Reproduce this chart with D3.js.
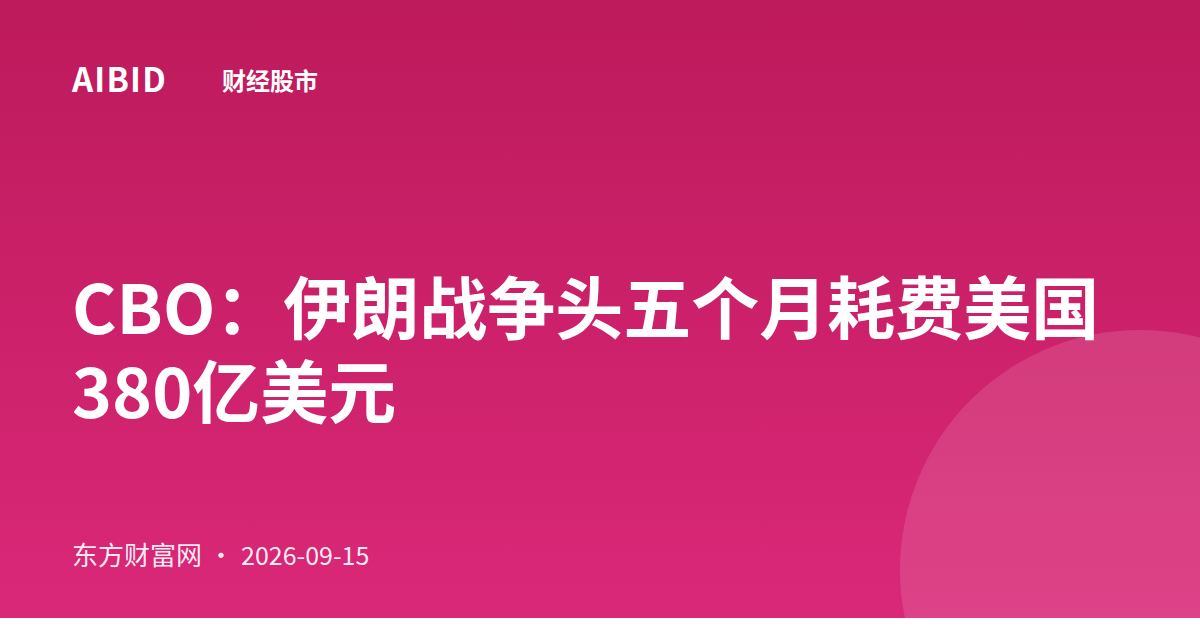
<!DOCTYPE html>
<html>
<head>
<meta charset="utf-8">
<script src="https://cdn.jsdelivr.net/npm/d3@7"></script>
<style>
  html, body { margin: 0; padding: 0; background: #fff; }
  svg { display: block; }
</style>
</head>
<body>
<svg id="card"></svg>
<script>
// card texts
const brand = ['AIBID', '财经股市'];
const titleLines = ['CBO：伊朗战争头五个月耗费美国', '380亿美元'];
const footer = ['东方财富网', '·', '2026-09-15'];
const bgStops = ['#bd1a5b', '#da2878'];

const width = 1200;
const height = 618;
const font = '"Noto Sans CJK SC", "Noto Sans", sans-serif';

const svg = d3.select('#card')
  .attr('width', width)
  .attr('height', 630);

const defs = svg.append('defs');
const grad = defs.append('linearGradient')
  .attr('id', 'bg')
  .attr('x1', 0).attr('y1', 0)
  .attr('x2', 0).attr('y2', 1);

const stop = d3.scaleLinear().domain([0, bgStops.length - 1]).range([0, 100]);
grad.selectAll('stop')
  .data(bgStops)
  .join('stop')
  .attr('offset', (d, i) => `${stop(i)}%`)
  .attr('stop-color', d => d);

svg.append('rect')
  .attr('width', width)
  .attr('height', height)
  .attr('fill', 'url(#bg)');

// decorative circle bottom right
const clip = defs.append('clipPath').attr('id', 'clip');
clip.append('rect').attr('width', width).attr('height', height);

svg.append('circle')
  .attr('clip-path', 'url(#clip)')
  .attr('cx', 1140)
  .attr('cy', 570)
  .attr('r', 240)
  .attr('fill', '#fff')
  .attr('fill-opacity', 0.12);

// top brand row
const header = svg.append('g').attr('font-family', font).attr('fill', '#fff');
header.append('text')
  .attr('x', 72).attr('y', 92)
  .attr('font-size', 33)
  .attr('font-weight', 700)
  .attr('letter-spacing', 1.2)
  .text(brand[0]);
header.append('text')
  .attr('x', 222).attr('y', 90)
  .attr('font-size', 24)
  .attr('font-weight', 700)
  .text(brand[1]);

// title, one text block with a tspan per line
const lineY = d3.scaleLinear().domain([0, 1]).range([334, 418]);
svg.append('text')
  .attr('font-family', font)
  .attr('fill', '#fff')
  .attr('font-weight', 700)
  .attr('font-size', 68)
  .selectAll('tspan')
  .data(titleLines)
  .join('tspan')
  .attr('x', 72)
  .attr('y', (d, i) => lineY(i))
  .text(d => d);

// footer
const fx = [72, 221, 241];
const fsize = [26, 25, 25];
const fanchor = ['start', 'middle', 'start'];
svg.append('g')
  .attr('font-family', font)
  .attr('fill', '#fff')
  .attr('fill-opacity', 0.92)
  .selectAll('text')
  .data(footer)
  .join('text')
  .attr('x', (d, i) => fx[i])
  .attr('y', 565)
  .attr('font-size', (d, i) => fsize[i])
  .attr('text-anchor', (d, i) => fanchor[i])
  .text(d => d);
</script>
</body>
</html>
